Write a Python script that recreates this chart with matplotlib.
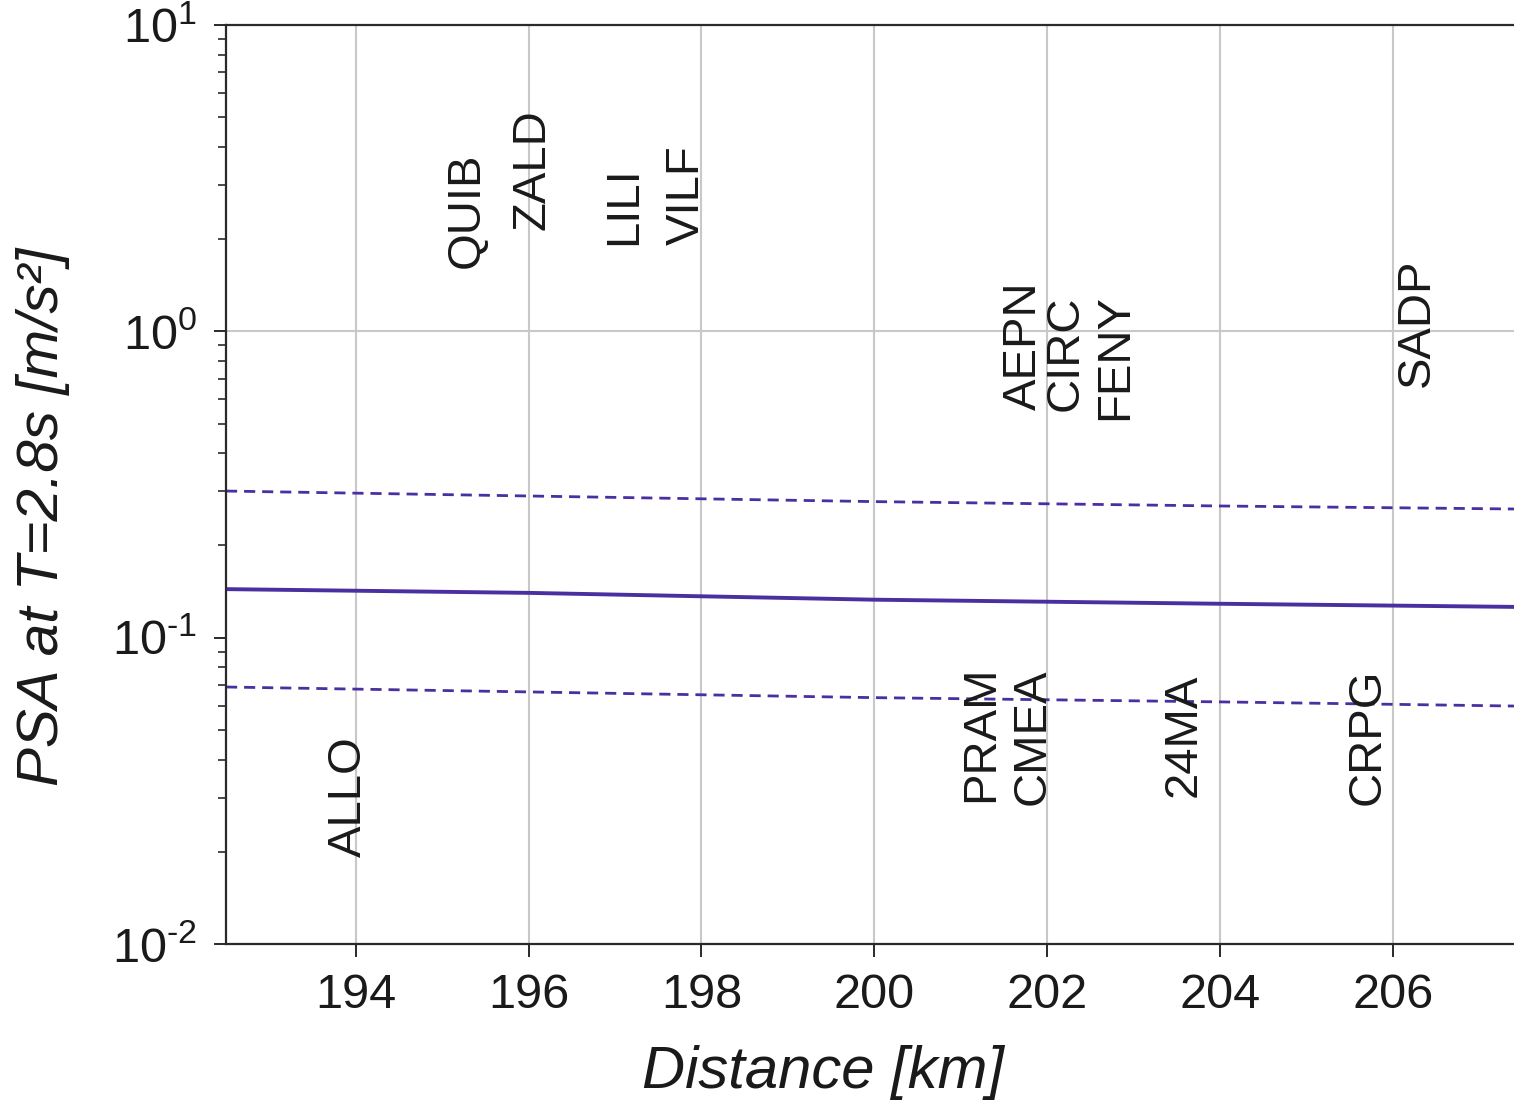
import matplotlib
matplotlib.use("Agg")
import math
import matplotlib.pyplot as plt
from matplotlib.ticker import LogLocator, NullFormatter, FuncFormatter

plt.rcParams["font.family"] = ["Liberation Sans", "DejaVu Sans"]
plt.rcParams["mathtext.fontset"] = "custom"
plt.rcParams["mathtext.rm"] = "Liberation Sans"
plt.rcParams["mathtext.it"] = "Liberation Sans:italic"
plt.rcParams["mathtext.default"] = "regular"

# GMPE prediction (median and +/- one sigma)
distance = [192.5, 196.0, 200.0, 204.0, 207.4]
psa_median = [0.144, 0.140, 0.133, 0.129, 0.126]
psa_upper = [0.301, 0.290, 0.278, 0.269, 0.263]
psa_lower = [0.069, 0.0665, 0.0637, 0.0617, 0.0598]

# station labels (placed at distance / observed PSA)
stations = ["ALLO", "QUIB", "ZALD", "LILI", "VILF", "AEPN", "CIRC", "FENY",
            "SADP", "PRAM", "CMEA", "24MA", "CRPG"]
station_dist = [193.92, 195.29, 196.05, 197.10, 197.83, 201.73, 202.21, 202.79,
                206.28, 201.24, 201.83, 203.58, 205.71]
station_psa = [0.0192, 1.61, 2.14, 1.91, 1.91, 0.553, 0.55, 0.513,
               0.658, 0.0290, 0.0284, 0.0302, 0.0284]

xticks = [194, 196, 198, 200, 202, 204, 206]

line_color = "#4a2fa0"


def decade_label(v, pos):
    e = int(round(math.log10(v)))
    s = str(e).replace("-", r"\text{-}")
    return r"$10^{%s}$" % s


fig = plt.figure(figsize=(15.14, 11.09), dpi=100)
ax = fig.add_axes([0.1493, 0.1488, 0.8507, 0.8287])

ax.plot(distance, psa_median, color=line_color, lw=2.8, solid_capstyle="butt")
ax.plot(distance, psa_upper, color=line_color, lw=2.0, ls=(0, (4, 2.5)))
ax.plot(distance, psa_lower, color=line_color, lw=2.0, ls=(0, (4, 2.5)))

for name, d, v in zip(stations, station_dist, station_psa):
    ax.text(d, v, name, rotation=90, ha="center", va="bottom",
            fontsize=34, color="#1a1a1a")

ax.set_yscale("log")
ax.set_xlim(192.5, 207.4)
ax.set_ylim(1e-2, 1e1)
ax.set_xticks(xticks)
ax.yaxis.set_major_formatter(FuncFormatter(decade_label))
ax.yaxis.set_minor_locator(LogLocator(base=10, subs=range(2, 10)))
ax.yaxis.set_minor_formatter(NullFormatter())

ax.grid(True, axis="x", color="#c8c8c8", lw=1.5)
ax.axhline(1.0, color="#c8c8c8", lw=1.5, zorder=0.5)
ax.set_axisbelow(True)

for side in ["left", "bottom", "top"]:
    ax.spines[side].set_linewidth(1.6)
    ax.spines[side].set_color("#2a2a2a")
ax.spines["right"].set_visible(False)

ax.tick_params(axis="both", which="major", labelsize=35, length=9,
               width=1.4, color="#2a2a2a", labelcolor="#1a1a1a",
               direction="out", pad=12)
ax.tick_params(axis="y", which="minor", length=6, width=1.2, color="#2a2a2a")
ax.tick_params(top=False, right=False)

ax.set_xlabel("Distance [km]", fontsize=43, fontstyle="italic", color="#1a1a1a")
ax.set_ylabel("PSA at T=2.8s [m/s\u00b2]", fontsize=42, fontstyle="italic",
              color="#1a1a1a")
ax.xaxis.set_label_coords(0.4635, -0.11)
ax.yaxis.set_label_coords(-0.121, 0.465)

fig.savefig("out.png", dpi=100, facecolor="white")
